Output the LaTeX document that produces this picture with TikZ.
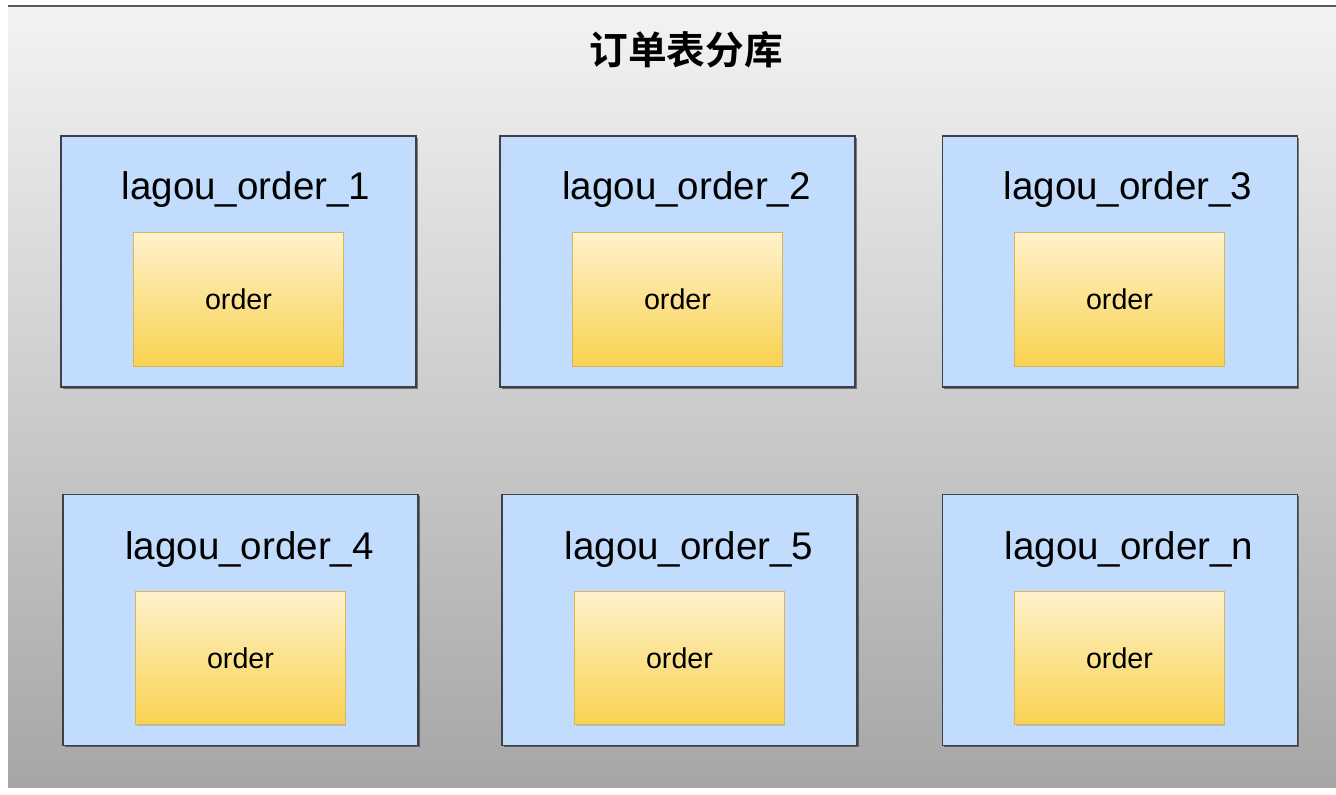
\documentclass[tikz,border=0pt]{standalone}
\usepackage{fontspec}
\usetikzlibrary{shadows}
\setmainfont{Liberation Sans}
\newfontfamily\cjk{Noto Sans CJK SC Bold}
\definecolor{bgtop}{RGB}{243,243,243}
\definecolor{bgbottom}{RGB}{166,166,166}
\definecolor{dbfill}{RGB}{193,220,252}
\definecolor{dbline}{RGB}{60,64,72}
\definecolor{tbtop}{RGB}{255,242,204}
\definecolor{tbbottom}{RGB}{248,210,80}
\definecolor{tbline}{RGB}{214,182,86}
\tikzset{
  dbbox/.style={draw=dbline,line width=1.2pt,fill=dbfill,minimum width=266pt,minimum height=188pt,inner sep=0pt,
    drop shadow={shadow xshift=1.3pt,shadow yshift=-1.3pt,fill=black,opacity=0.45}},
  tblbox/.style={draw=tbline,line width=0.8pt,top color=tbtop,bottom color=tbbottom,minimum width=157pt,minimum height=100pt,inner sep=0pt,font=\fontsize{21.5}{24}\selectfont,
    drop shadow={shadow xshift=0.8pt,shadow yshift=-0.8pt,fill=black,opacity=0.15}},
  dblabel/.style={inner sep=0pt,font=\fontsize{28.9}{32}\selectfont},
}
\begin{document}
\begin{tikzpicture}[x=0.75pt,y=0.75pt,yscale=-1,xscale=1]
\useasboundingbox (0,0) rectangle (1336,795);

%Background
\fill [top color=bgtop,bottom color=bgbottom] (8,6) rectangle (1336,787);
\draw [color={rgb, 255:red, 90; green, 90; blue, 90 },line width=1.5pt] (8,6) -- (1336,6);

% Title
\node (title) at (686,50) [inner sep=0pt] {\cjk\fontsize{29}{32}\selectfont 订单表分库};

%Row 1
\node (db1) at (238.5,261.5) [dbbox] {};
\node (db2) at (677.5,261.5) [dbbox] {};
\node (db3) at (1120,261.5) [dbbox] {};
\node (lb1) at (246,190) [dblabel] {lagou\_order\_1};
\node (lb2) at (686.5,190) [dblabel] {lagou\_order\_2};
\node (lb3) at (1128,190) [dblabel] {lagou\_order\_3};
\node (tb1) at (238.5,299.5) [tblbox] {order};
\node (tb2) at (677.5,299.5) [tblbox] {order};
\node (tb3) at (1119.5,299.5) [tblbox] {order};

%Row 2
\node (db4) at (240.5,620) [dbbox] {};
\node (db5) at (679.5,620) [dbbox] {};
\node (db6) at (1120,620) [dbbox] {};
\node (lb4) at (249.5,550) [dblabel] {lagou\_order\_4};
\node (lb5) at (689,550) [dblabel] {lagou\_order\_5};
\node (lb6) at (1129,550) [dblabel] {lagou\_order\_n};
\node (tb4) at (240.5,658) [tblbox] {order};
\node (tb5) at (679.5,658) [tblbox] {order};
\node (tb6) at (1119.5,658) [tblbox] {order};

\end{tikzpicture}
\end{document}
